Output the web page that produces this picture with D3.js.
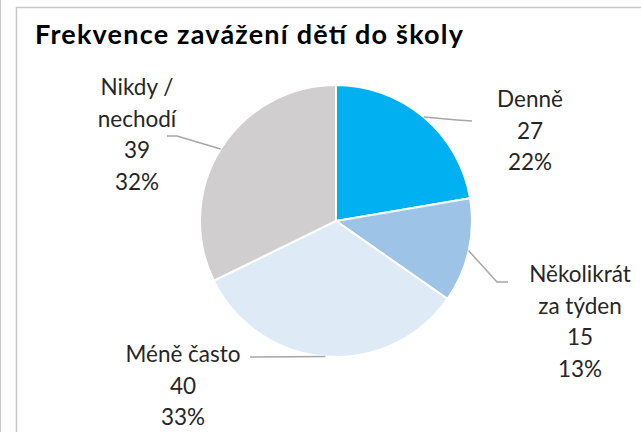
<!DOCTYPE html>
<html><head><meta charset="utf-8">
<script src="https://cdn.jsdelivr.net/npm/d3@7"></script>
<style>
html,body{margin:0;padding:0;background:#fff;}
svg{display:block;font-family:Lato,"Open Sans",sans-serif;}
</style></head>
<body>
<svg id="chart" width="641" height="432"></svg>
<script>
const title = "Frekvence zavážení dětí do školy";
const categories = ["Denně", "Několikrát za týden", "Méně často", "Nikdy / nechodí"];
const labelLines = [["Denně"], ["Několikrát", "za týden"], ["Méně často"], ["Nikdy /", "nechodí"]];
const values = [27, 15, 40, 39];
const percents = ["22%", "13%", "33%", "32%"];
const colors = ["#00B0F0", "#9DC3E6", "#DEEBF7", "#D0CECE"];

const svg = d3.select("#chart");
const W = 641, H = 432;

// frame
svg.append("line").attr("x1",0.5).attr("x2",0.5).attr("y1",0).attr("y2",H).attr("stroke","#c8c8c8").attr("stroke-width",1);
svg.append("path").attr("d",`M16.5,${H}V7.5H${W}`).attr("fill","none").attr("stroke","#c8c8c8").attr("stroke-width",1.5);

svg.append("text").attr("x",35).attr("y",44).attr("font-weight","bold").attr("font-size",27)
  .attr("fill","#000").attr("textLength",428).attr("lengthAdjust","spacing").text(title);

const cx = 336, cy = 221, r = 136;
const data = categories.map((c,i)=>({cat:c, lines:labelLines[i], value:values[i], pct:percents[i], color:colors[i]}));
const pie = d3.pie().sort(null).value(d=>d.value);
const arcs = pie(data);
const arc = d3.arc().innerRadius(0).outerRadius(r);
const g = svg.append("g").attr("transform",`translate(${cx},${cy})`);
g.selectAll("path.slice").data(arcs).join("path").attr("class","slice")
  .attr("d",arc).attr("fill",d=>d.data.color).attr("stroke","#fff").attr("stroke-width",2);

// label layout (positions relative to svg)
const labelPos = [
  {x:530, y:107, lead:[[457,120],[472,121]]},
  {x:580, y:282, lead:[[497,282],[508,282]]},
  {x:183, y:362, lead:[[250,357]]},
  {x:137, y:95, lead:[[177,136],[167,136]]}
];
const lineH = 31.7;
arcs.forEach((a,i)=>{
  const mid = (a.startAngle + a.endAngle)/2;
  const p0 = [cx + r*Math.sin(mid), cy - r*Math.cos(mid)];
  const pts = [p0, ...labelPos[i].lead];
  svg.append("path").attr("d", d3.line()(pts)).attr("fill","none")
    .attr("stroke","#A6A6A6").attr("stroke-width",1.5);
  const lines = [...a.data.lines, String(a.data.value), a.data.pct];
  const t = svg.append("text").attr("text-anchor","middle").attr("font-size",22.5).attr("fill","#262626");
  lines.forEach((s,k)=>{
    t.append("tspan").attr("x",labelPos[i].x).attr("y",labelPos[i].y + k*lineH).text(s);
  });
});
</script>
</body></html>
